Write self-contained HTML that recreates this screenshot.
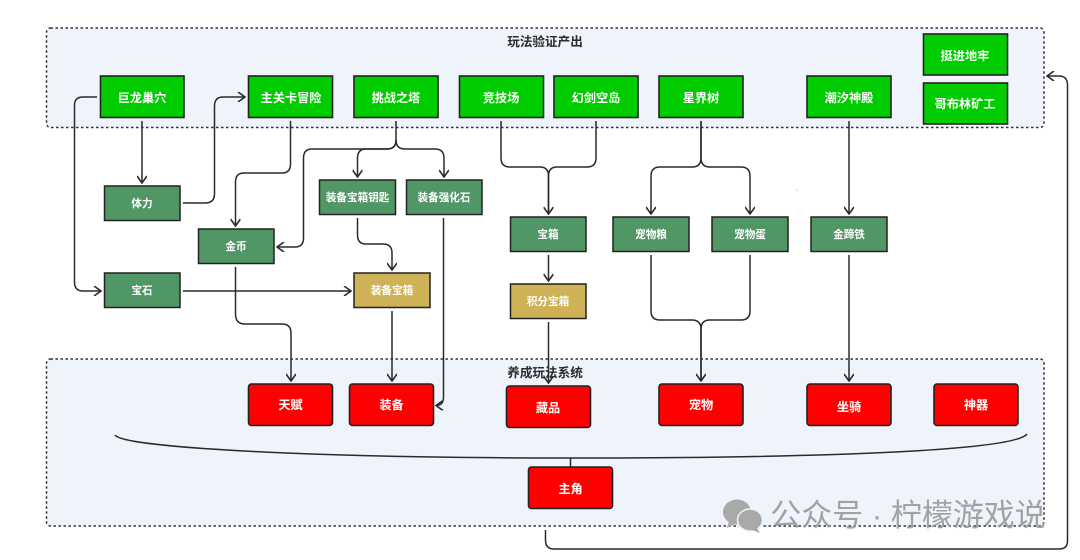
<!DOCTYPE html>
<html><head><meta charset="utf-8">
<style>
html,body{margin:0;padding:0;background:#fff}
body{width:1080px;height:560px;overflow:hidden}
svg{display:block}
text{font-family:"Liberation Sans","Noto Sans CJK SC",sans-serif;text-anchor:middle}
.l{font-size:12.2px;font-weight:700;fill:#fff;dominant-baseline:central}
.s{font-size:10.6px;font-weight:700;fill:#fff;dominant-baseline:central}
.t{font-size:12.6px;font-weight:700;fill:#2b2b2b;dominant-baseline:central}
.g{fill:#00cc00;stroke:#222;stroke-width:1.6}
.d{fill:#519765;stroke:#222;stroke-width:1.5}
.y{fill:#cfb157;stroke:#222;stroke-width:1.5}
.r{fill:#ff0000;stroke:#222;stroke-width:1.6}
.c{fill:none;stroke:#2a2a2a;stroke-width:1.5}
.grp{fill:#eff3fc;stroke:#333;stroke-width:1.5;stroke-dasharray:2.5 2.5}
</style></head><body>
<svg width="1080" height="560" viewBox="0 0 1080 560" xmlns="http://www.w3.org/2000/svg">
<defs><marker id="a" viewBox="0 0 10 10" refX="9" refY="5" markerWidth="10" markerHeight="10" markerUnits="userSpaceOnUse" orient="auto"><path d="M2 0L9 5L2 10" fill="none" stroke="#2a2a2a" stroke-width="1.6"/></marker></defs>
<rect class="grp" x="46.5" y="28" width="997.5" height="99.500" rx="4"/>
<rect class="grp" x="46.5" y="359" width="997.5" height="167" rx="4"/>
<text class="t" x="545" y="42">玩法验证产出</text>
<text class="t" x="545" y="373">养成玩法系统</text>

<g class="c">
<path d="M97 97H83Q74.500 97 74.500 105V282Q74.500 291 83 291H101" marker-end="url(#a)"/>
<path d="M142 121V183" marker-end="url(#a)"/>
<path d="M183 203H205Q214.500 203 214.500 194V106Q214.500 97 223 97H245" marker-end="url(#a)"/>
<path d="M290.500 121V164Q290.500 173 282 173H244Q235.500 173 235.500 182V226" marker-end="url(#a)"/>
<path d="M396 121V140Q396 149 387 149H312Q303.500 149 303.500 158V238Q303.500 247 295 247H277" marker-end="url(#a)"/>
<path d="M396 140Q396 149 387 149H366Q357.500 149 357.500 158V177" marker-end="url(#a)"/>
<path d="M396 140Q396 149 405 149H435Q444 149 444 158V177" marker-end="url(#a)"/>
<path d="M357.500 218V235Q357.500 244 366 244H383Q392 244 392 253V270" marker-end="url(#a)"/>
<path d="M443.500 218V397Q443.500 405.500 436 405.500" marker-end="url(#a)"/>
<path d="M183 291H351" marker-end="url(#a)"/>
<path d="M235.500 267V314Q235.500 324 245 324H282Q291 324 291 333V381" marker-end="url(#a)"/>
<path d="M392 311V381" marker-end="url(#a)"/>
<path d="M501 121V158Q501 167 510 167H540Q548.500 167 548.500 176V214"/>
<path d="M596 121V158Q596 167 587 167H557Q548.500 167 548.500 176V214" marker-end="url(#a)"/>
<path d="M701 121V158Q701 167 692 167H660Q651 167 651 176V214" marker-end="url(#a)"/>
<path d="M701 121V158Q701 167 710 167H741Q750 167 750 176V214" marker-end="url(#a)"/>
<path d="M849 121V214" marker-end="url(#a)"/>
<path d="M548.500 255V281" marker-end="url(#a)"/>
<path d="M548.500 322V383" marker-end="url(#a)"/>
<path d="M651 255V311Q651 320 660 320H692Q701 320 701 329V381"/>
<path d="M750 255V311Q750 320 741 320H710Q701 320 701 329V381" marker-end="url(#a)"/>
<path d="M849 255V381" marker-end="url(#a)"/>
<path d="M545.500 530V540Q545.500 549 554 549H1059Q1067.500 549 1067.500 541V85Q1067.500 76 1059 76H1047" marker-end="url(#a)"/>
<path d="M115 435C122 447 300 458 570 458C840 458 1015 450 1027 434"/>
<path d="M570.500 458V467"/>
</g>

<g class="g">
<rect x="100.500" y="76" width="83.500" height="41.500"/>
<rect x="248.500" y="76" width="84" height="41.500"/>
<rect x="354" y="76" width="84" height="41.500"/>
<rect x="459.500" y="76" width="84" height="41.500"/>
<rect x="554" y="76" width="84" height="41.500"/>
<rect x="659" y="76" width="84" height="41.500"/>
<rect x="807" y="76" width="84" height="41.500"/>
<rect x="923.500" y="34" width="84" height="41"/>
<rect x="923.500" y="83" width="84" height="41"/>
</g>
<g class="d">
<rect x="104.500" y="186" width="75.500" height="34.500"/>
<rect x="198.500" y="229" width="75.500" height="34.500"/>
<rect x="319.500" y="180" width="76" height="34.500"/>
<rect x="406.500" y="180" width="75.500" height="34.500"/>
<rect x="104.500" y="273" width="75.500" height="34.500"/>
<rect x="510.500" y="217" width="75.500" height="34.500"/>
<rect x="613" y="217" width="76" height="34.500"/>
<rect x="712" y="217" width="76" height="34.500"/>
<rect x="811" y="217" width="76" height="34.500"/>
</g>
<g class="y">
<rect x="354" y="273" width="76" height="34.500"/>
<rect x="510.500" y="284" width="75.500" height="34.500"/>
</g>
<g class="r">
<rect x="248.500" y="384" width="84" height="41.500" rx="3"/>
<rect x="349.500" y="384" width="84" height="41.500" rx="3"/>
<rect x="506.500" y="386" width="84" height="41.500" rx="3"/>
<rect x="659" y="384" width="84" height="41.500" rx="3"/>
<rect x="807" y="384" width="84" height="41.500" rx="3"/>
<rect x="934" y="384" width="84" height="41.500" rx="3"/>
<rect x="528.500" y="467" width="84" height="41.500" rx="3"/>
</g>

<text class="l" x="142" y="98">巨龙巢穴</text>
<text class="l" x="291" y="98">主关卡冒险</text>
<text class="l" x="396" y="98">挑战之塔</text>
<text class="l" x="501" y="98">竞技场</text>
<text class="l" x="596" y="98">幻剑空岛</text>
<text class="l" x="701" y="98">星界树</text>
<text class="l" x="849" y="98">潮汐神殿</text>
<text class="l" x="965" y="56">挺进地牢</text>
<text class="l" x="965" y="104">哥布林矿工</text>
<text class="s" x="142" y="204">体力</text>
<text class="s" x="236" y="247">金币</text>
<text class="s" x="357.500" y="198">装备宝箱钥匙</text>
<text class="s" x="444" y="198">装备强化石</text>
<text class="s" x="142" y="291">宝石</text>
<text class="s" x="392" y="291">装备宝箱</text>
<text class="s" x="548" y="235">宝箱</text>
<text class="s" x="651" y="235">宠物粮</text>
<text class="s" x="750" y="235">宠物蛋</text>
<text class="s" x="849" y="235">金蹄铁</text>
<text class="s" x="548" y="302">积分宝箱</text>
<text class="l" x="290.500" y="405">天赋</text>
<text class="l" x="391.500" y="405">装备</text>
<text class="l" x="548" y="408">藏品</text>
<text class="l" x="701" y="405">宠物</text>
<text class="l" x="849" y="407">坐骑</text>
<text class="l" x="976" y="405">神器</text>
<text class="l" x="570.500" y="489">主角</text>

<g fill="#a9a9a9">
<ellipse cx="737" cy="512" rx="14" ry="12.500"/>
<path d="M729 521l-2 7 8-4z"/>
<ellipse cx="750" cy="520" rx="12.500" ry="11" stroke="#eff3fc" stroke-width="1.500"/>
<path d="M757 528l3 5-8-3z"/>
</g>
<text x="908" y="515.500" style="font-size:31px;fill:#999;fill-opacity:.9;dominant-baseline:central">公众号 · 柠檬游戏说</text>
<circle cx="797" cy="190" r=".6" fill="#999"/>
</svg>
</body></html>
